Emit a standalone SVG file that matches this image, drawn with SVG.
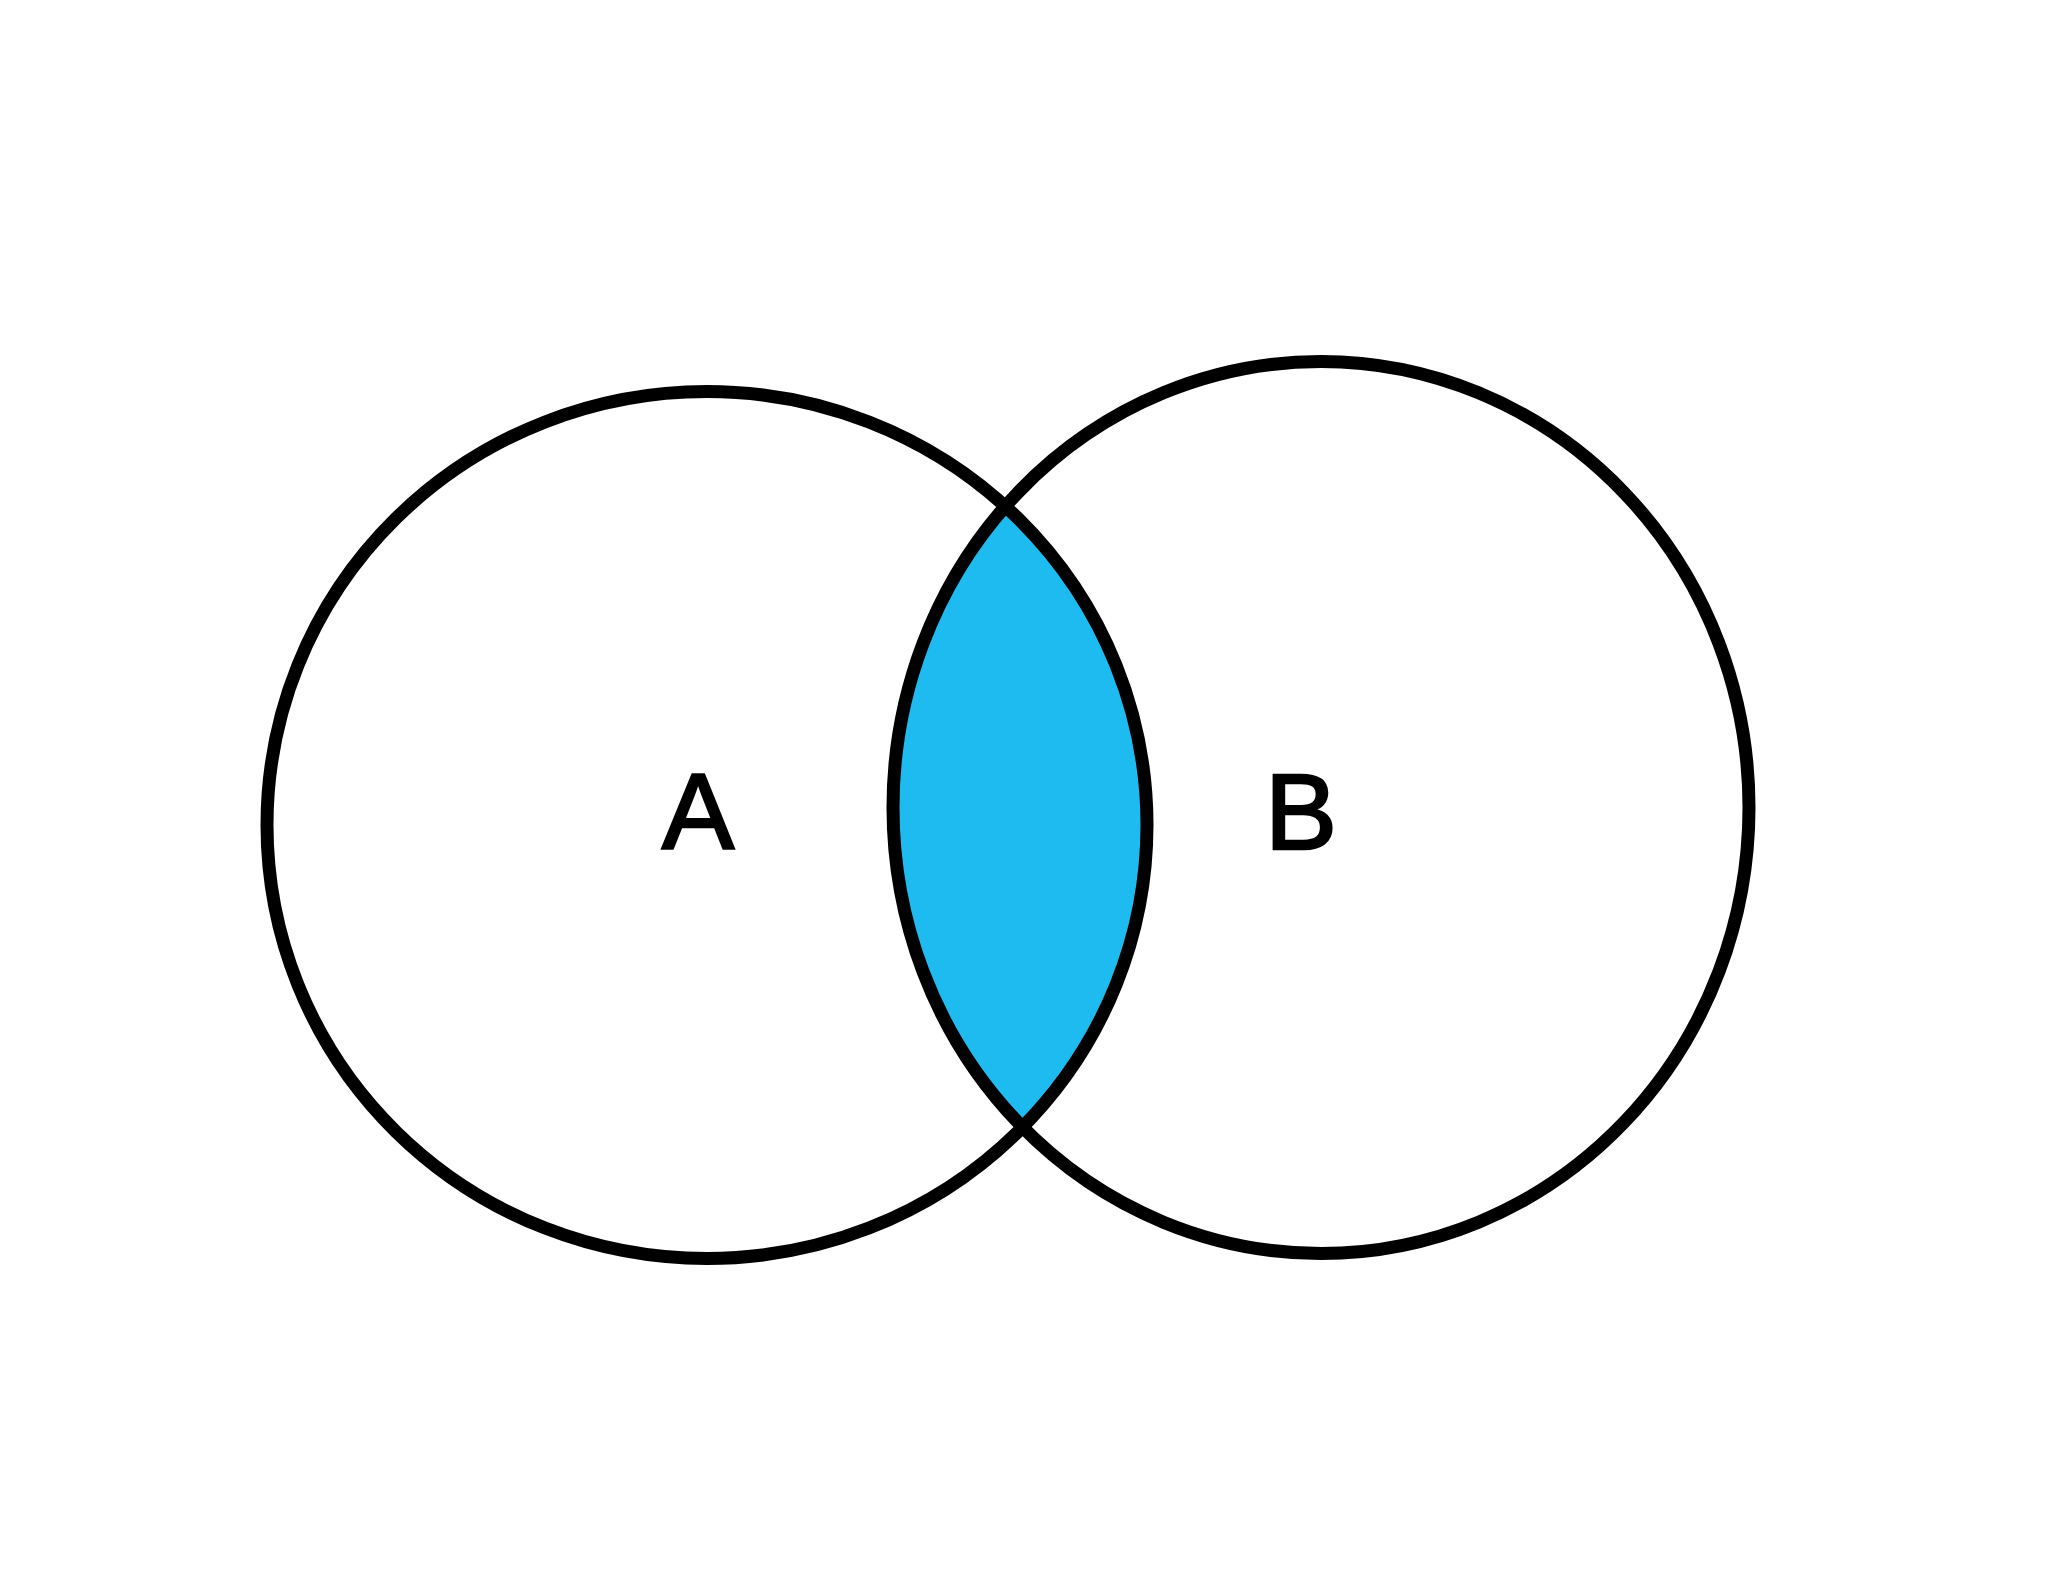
<svg xmlns="http://www.w3.org/2000/svg" width="2048" height="1582" viewBox="0 0 2048 1582">
  <style>
    .ring { fill: none; stroke: #000000; stroke-width: 13; }
    .label { font-family: "Liberation Sans", Arial, sans-serif; font-size: 108px; fill: #000000; stroke: #000000; stroke-width: 2.5; stroke-linejoin: miter; text-anchor: middle; }
  </style>
  <defs>
    <clipPath id="clipA">
      <ellipse cx="707" cy="825" rx="440" ry="433.5"/>
    </clipPath>
  </defs>
  <rect x="0" y="0" width="2048" height="1582" fill="#ffffff"/>
  <g id="intersection">
    <ellipse cx="1321" cy="807.5" rx="428" ry="446" fill="#1DBBF0" clip-path="url(#clipA)"/>
  </g>
  <g id="setA">
    <ellipse class="ring" cx="707" cy="825" rx="440" ry="433.5"/>
    <text class="label" x="698" y="849">A</text>
  </g>
  <g id="setB">
    <ellipse class="ring" cx="1321" cy="807.5" rx="428" ry="446"/>
    <text class="label" x="1301" y="849">B</text>
  </g>
  <g id="connectors"></g>
</svg>
